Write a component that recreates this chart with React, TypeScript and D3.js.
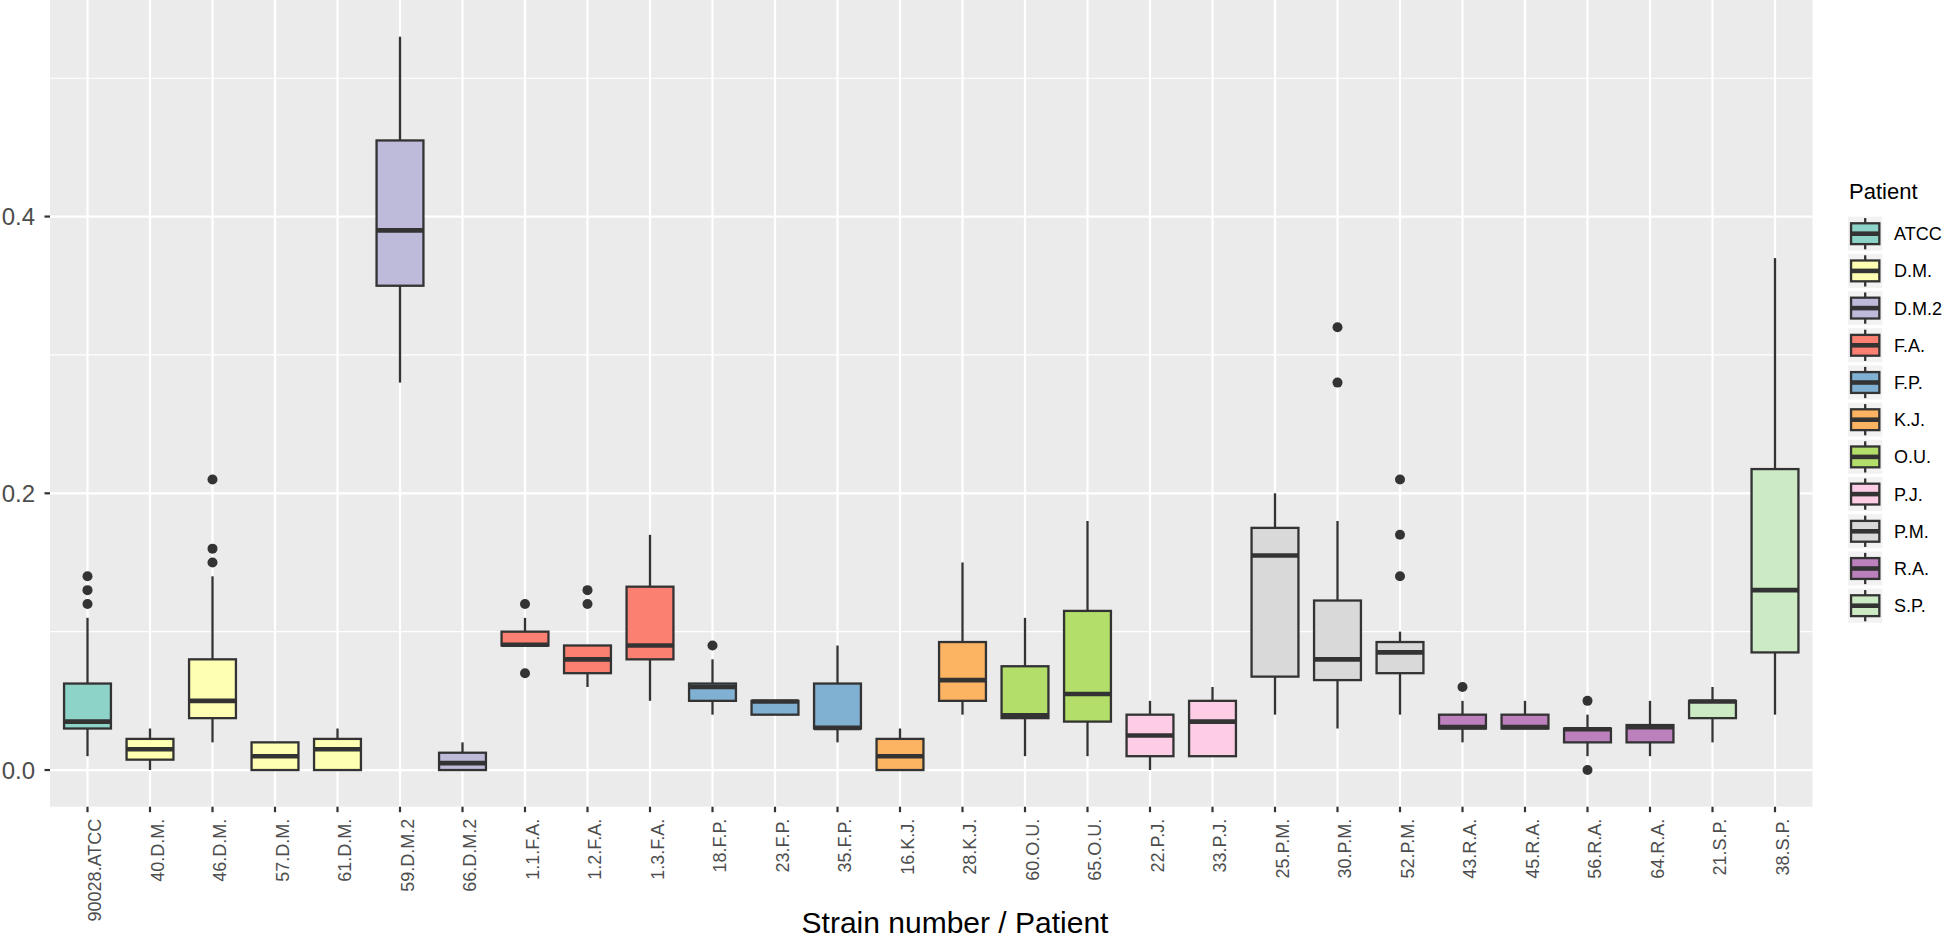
import React from "react";
import * as d3 from "d3";

const strains = [
  "90028.ATCC", "40.D.M.", "46.D.M.", "57.D.M.", "61.D.M.", "59.D.M.2", "66.D.M.2",
  "1.1.F.A.", "1.2.F.A.", "1.3.F.A.", "18.F.P.", "23.F.P.", "35.F.P.", "16.K.J.",
  "28.K.J.", "60.O.U.", "65.O.U.", "22.P.J.", "33.P.J.", "25.P.M.", "30.P.M.",
  "52.P.M.", "43.R.A.", "45.R.A.", "56.R.A.", "64.R.A.", "21.S.P.", "38.S.P.",
];
const strainPatient = [
  "ATCC", "D.M.", "D.M.", "D.M.", "D.M.", "D.M.2", "D.M.2",
  "F.A.", "F.A.", "F.A.", "F.P.", "F.P.", "F.P.", "K.J.",
  "K.J.", "O.U.", "O.U.", "P.J.", "P.J.", "P.M.", "P.M.",
  "P.M.", "R.A.", "R.A.", "R.A.", "R.A.", "S.P.", "S.P.",
];
const whiskerLow = [
  0.01, 0.0, 0.02, 0.0, 0.0, 0.28, 0.0,
  0.09, 0.06, 0.05, 0.04, 0.04, 0.02, 0.0,
  0.04, 0.01, 0.01, 0.0, 0.01, 0.04, 0.03,
  0.04, 0.02, 0.03, 0.01, 0.01, 0.02, 0.04,
];
const q1 = [
  0.03, 0.0075, 0.0375, 0.0, 0.0, 0.35, 0.0,
  0.09, 0.07, 0.08, 0.05, 0.04, 0.03, 0.0,
  0.05, 0.0375, 0.035, 0.01, 0.01, 0.0675, 0.065,
  0.07, 0.03, 0.03, 0.02, 0.02, 0.0375, 0.085,
];
const medians = [
  0.035, 0.015, 0.05, 0.01, 0.015, 0.39, 0.005,
  0.0905, 0.08, 0.09, 0.06, 0.0495, 0.0305, 0.01,
  0.065, 0.0395, 0.055, 0.025, 0.035, 0.155, 0.08,
  0.085, 0.031, 0.031, 0.0295, 0.031, 0.0495, 0.13,
];
const q3 = [
  0.0625, 0.0225, 0.08, 0.02, 0.0225, 0.455, 0.0125,
  0.1, 0.09, 0.1325, 0.0625, 0.05, 0.0625, 0.0225,
  0.0925, 0.075, 0.115, 0.04, 0.05, 0.175, 0.1225,
  0.0925, 0.04, 0.04, 0.03, 0.0325, 0.05, 0.2175,
];
const whiskerHigh = [
  0.11, 0.03, 0.14, 0.02, 0.03, 0.53, 0.02,
  0.11, 0.09, 0.17, 0.08, 0.05, 0.09, 0.03,
  0.15, 0.11, 0.18, 0.05, 0.06, 0.2, 0.18,
  0.1, 0.05, 0.05, 0.04, 0.05, 0.06, 0.37,
];
const outliers: number[][] = [
  [0.12, 0.13, 0.14], [], [0.15, 0.16, 0.21], [], [], [], [],
  [0.07, 0.12], [0.12, 0.13], [], [0.09], [], [], [],
  [], [], [], [], [], [], [0.28, 0.32],
  [0.14, 0.17, 0.21], [0.06], [], [0.0, 0.05], [], [], [],
];

const patientLevels = ["ATCC", "D.M.", "D.M.2", "F.A.", "F.P.", "K.J.", "O.U.", "P.J.", "P.M.", "R.A.", "S.P."];
const patientColors = ["#8DD3C7", "#FFFFB3", "#BEBADA", "#FB8072", "#80B1D3", "#FDB462", "#B3DE69", "#FCCDE5", "#D9D9D9", "#BC80BD", "#CCEBC5"];
const yMajorTicks = [0, 0.2, 0.4];
const yMinorTicks = [0.1, 0.3, 0.5];
const yTickLabels = ["0.0", "0.2", "0.4"];
const xTitle = "Strain number / Patient";
const legendTitle = "Patient";

const W = 1946;
const H = 940;
const panel = { left: 50, right: 1812.5, top: 0, bottom: 806.7 };
const FONT = "'Liberation Sans', Arial, Helvetica, sans-serif";
const LINE = "#333333";

export default function App() {
  const dataMax = d3.max(whiskerHigh.concat(outliers.flat())) as number;
  const dataMin = d3.min(whiskerLow.concat(outliers.flat())) as number;
  const pad = (dataMax - dataMin) * 0.05;
  const y = d3.scaleLinear().domain([dataMin - pad, dataMax + pad]).range([panel.bottom, panel.top]);
  const x = d3.scalePoint<string>().domain(strains).range([panel.left, panel.right]).padding(0.6);
  const step = x.step();
  const boxW = step * 0.75;
  const color = d3.scaleOrdinal<string, string>().domain(patientLevels).range(patientColors);

  const lw = 2.3;
  const keySize = 37.2;
  const legendX = 1846.6;
  const legendY0 = 215.1;

  return (
    <svg width={W} height={H} style={{ position: "absolute", left: 0, top: 0, background: "#fff" }}>
      <rect x={0} y={0} width={W} height={H} fill="#ffffff" />
      {/* panel */}
      <rect x={panel.left} y={panel.top} width={panel.right - panel.left} height={panel.bottom - panel.top} fill="#EBEBEB" />
      {yMinorTicks.map((t) => (
        <line key={"mn" + t} x1={panel.left} x2={panel.right} y1={y(t)} y2={y(t)} stroke="#ffffff" strokeWidth={1.1} />
      ))}
      {yMajorTicks.map((t) => (
        <line key={"mj" + t} x1={panel.left} x2={panel.right} y1={y(t)} y2={y(t)} stroke="#ffffff" strokeWidth={2.2} />
      ))}
      {strains.map((s) => (
        <line key={"gx" + s} x1={x(s)} x2={x(s)} y1={panel.top} y2={panel.bottom} stroke="#ffffff" strokeWidth={2.2} />
      ))}

      {/* boxes */}
      {strains.map((s, i) => {
        const cx = x(s) as number;
        const fill = color(strainPatient[i]);
        return (
          <g key={"b" + s}>
            <line x1={cx} x2={cx} y1={y(q3[i])} y2={y(whiskerHigh[i])} stroke={LINE} strokeWidth={lw} />
            <line x1={cx} x2={cx} y1={y(q1[i])} y2={y(whiskerLow[i])} stroke={LINE} strokeWidth={lw} />
            <rect
              x={cx - boxW / 2}
              y={y(q3[i])}
              width={boxW}
              height={Math.max(0, y(q1[i]) - y(q3[i]))}
              fill={fill}
              stroke={LINE}
              strokeWidth={lw}
            />
            <line x1={cx - boxW / 2} x2={cx + boxW / 2} y1={y(medians[i])} y2={y(medians[i])} stroke={LINE} strokeWidth={lw * 2} />
            {outliers[i].map((o, j) => (
              <circle key={j} cx={cx} cy={y(o)} r={5} fill={LINE} />
            ))}
          </g>
        );
      })}

      {/* y axis */}
      {yMajorTicks.map((t, i) => (
        <g key={"yt" + t}>
          <line x1={panel.left - 5.5} x2={panel.left} y1={y(t)} y2={y(t)} stroke={LINE} strokeWidth={2.2} />
          <text x={35} y={y(t)} dy="0.36em" textAnchor="end" fontFamily={FONT} fontSize={24} fill="#4D4D4D">
            {yTickLabels[i]}
          </text>
        </g>
      ))}

      {/* x axis */}
      {strains.map((s) => {
        const cx = x(s) as number;
        return (
          <g key={"xt" + s}>
            <line x1={cx} x2={cx} y1={panel.bottom} y2={panel.bottom + 5.5} stroke={LINE} strokeWidth={2.2} />
            <text
              transform={`translate(${cx + 13.5},${panel.bottom + 12}) rotate(-90)`}
              textAnchor="end"
              fontFamily={FONT}
              fontSize={18}
              fill="#4D4D4D"
            >
              {s}
            </text>
          </g>
        );
      })}
      <text x={955} y={933} textAnchor="middle" fontFamily={FONT} fontSize={30} fill="#000000">
        {xTitle}
      </text>

      {/* legend */}
      <text x={1849} y={199} fontFamily={FONT} fontSize={22} fill="#000000">
        {legendTitle}
      </text>
      {patientLevels.map((p, i) => {
        const ky = legendY0 + i * keySize;
        const kx = legendX;
        const cx = kx + keySize / 2;
        return (
          <g key={"lg" + p}>
            <rect x={kx} y={ky} width={keySize} height={keySize} fill="#F2F2F2" stroke="#ffffff" strokeWidth={3} />
            <line x1={cx} x2={cx} y1={ky + keySize * 0.08} y2={ky + keySize * 0.92} stroke={LINE} strokeWidth={lw} />
            <rect
              x={kx + keySize * 0.12}
              y={ky + keySize * 0.22}
              width={keySize * 0.76}
              height={keySize * 0.56}
              fill={color(p)}
              stroke={LINE}
              strokeWidth={lw}
            />
            <line x1={kx + keySize * 0.12} x2={kx + keySize * 0.88} y1={ky + keySize / 2} y2={ky + keySize / 2} stroke={LINE} strokeWidth={lw * 2} />
            <text x={1894} y={ky + keySize / 2} dy="0.36em" fontFamily={FONT} fontSize={18} fill="#000000">
              {p}
            </text>
          </g>
        );
      })}
    </svg>
  );
}
